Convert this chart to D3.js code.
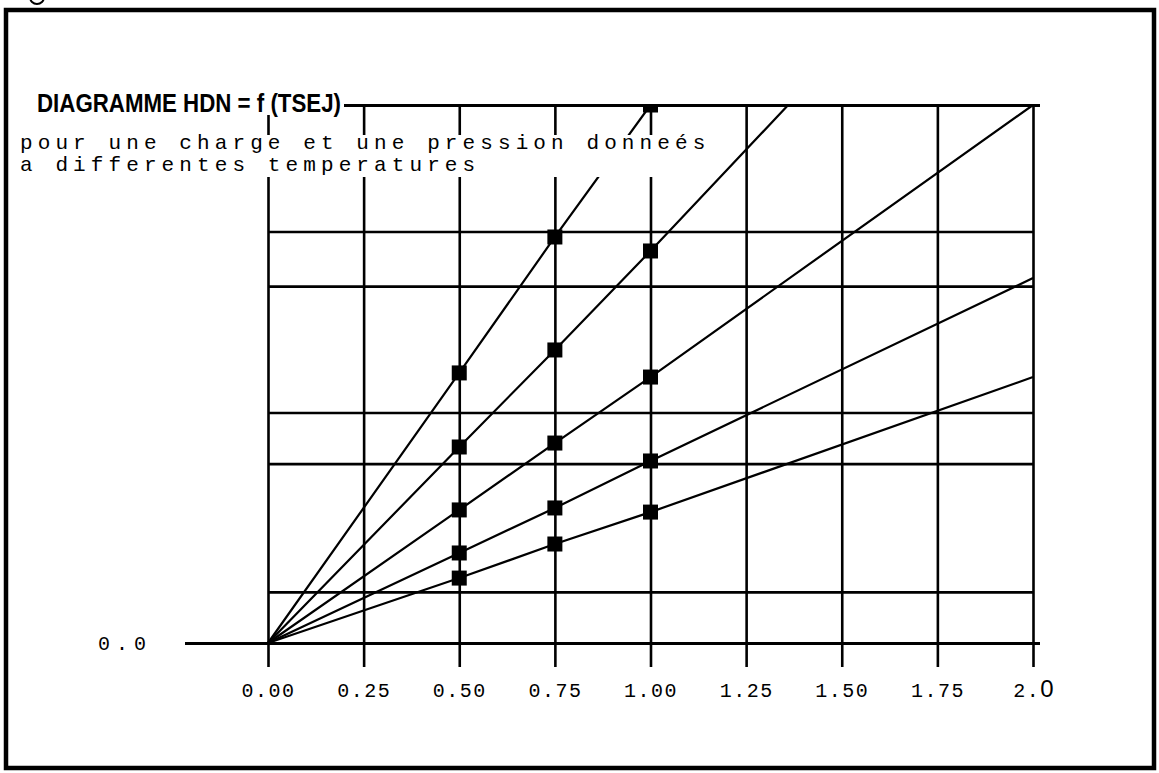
<!DOCTYPE html>
<html><head><meta charset="utf-8">
<script src="https://cdn.jsdelivr.net/npm/d3@7"></script>
<style>html,body{margin:0;padding:0;background:#fff;} svg{display:block}</style>
</head><body>
<svg id="chart" width="1159" height="773"></svg>
<script>
// ---- data ----
const titleText = "DIAGRAMME HDN = f (TSEJ)";
const subtitleLines = ["pour une charge et une pression donneés", "a differentes temperatures"];
const xTicks = [0, 0.25, 0.5, 0.75, 1.0, 1.25, 1.5, 1.75, 2.0];
const xTickLabels = ["0.00", "0.25", "0.50", "0.75", "1.00", "1.25", "1.50", "1.75", "2.0"];
const yGrid = [0.285, 1.0, 1.285, 1.99, 2.295, 3.0];
const yBaseTicks = [0, 3.0];
const yBaseLabels = ["0.0", ""];

// curve points (TSEJ, HDN) per temperature
const s1X = [0, 0.5, 0.75, 1.0];
const s1Y = [0, 1.506, 2.264, 3.0];
const s2X = [0, 0.5, 0.75, 1.0, 1.36];
const s2Y = [0, 1.093, 1.634, 2.186, 3.0];
const s3X = [0, 0.5, 0.75, 1.0, 2.0];
const s3Y = [0, 0.742, 1.115, 1.483, 3.0];
const s4X = [0, 0.5, 0.75, 1.0, 2.0];
const s4Y = [0, 0.502, 0.753, 1.015, 2.035];
const s5X = [0, 0.5, 0.75, 1.0, 2.0];
const s5Y = [0, 0.362, 0.552, 0.730, 1.483];
// measured points (markers) per temperature
const markerX = [0.5, 0.75, 1.0];
const m1Y = [1.506, 2.264, 3.0];
const m2Y = [1.093, 1.634, 2.186];
const m3Y = [0.742, 1.115, 1.483];
const m4Y = [0.502, 0.753, 1.015];
const m5Y = [0.362, 0.552, 0.730];

const series = [
  {xs: s1X, ys: s1Y, my: m1Y},
  {xs: s2X, ys: s2Y, my: m2Y},
  {xs: s3X, ys: s3Y, my: m3Y},
  {xs: s4X, ys: s4Y, my: m4Y},
  {xs: s5X, ys: s5Y, my: m5Y}
];

// ---- drawing ----
const svg = d3.select("#chart");
const x = d3.scaleLinear().domain([0, 2]).range([268, 1033]);
const y = d3.scaleLinear().domain([0, 3]).range([643, 105]);
const mono = "'Liberation Mono', 'DejaVu Sans Mono', monospace";

svg.append("rect").attr("width", 1159).attr("height", 773).attr("fill", "#fff");

const defs = svg.append("defs");
defs.append("clipPath").attr("id", "plotclip").append("rect")
  .attr("x", 180).attr("y", y(3)).attr("width", 870).attr("height", 600);

// vertical grid lines + x labels
const gx = svg.append("g").attr("transform", `translate(0,${y(3)})`)
  .call(d3.axisBottom(x).tickValues(xTicks).tickSize(y(0) + 24 - y(3)).tickPadding(16)
    .tickFormat((d, i) => xTickLabels[i]));
gx.select(".domain").remove();
gx.selectAll("line").attr("stroke", "#000").attr("stroke-width", 2.6);
gx.selectAll("text").attr("font-family", mono)
  .attr("font-size", 20).attr("letter-spacing", 1.5).attr("fill", "#000");
// last label: the "0" is in a different, larger face
const last = gx.selectAll("text").filter((d, i) => i === xTicks.length - 1);
last.text(null);
last.append("tspan").text(xTickLabels[xTickLabels.length - 1].slice(0, 2));
last.append("tspan").attr("font-family", "'Liberation Sans', Arial, sans-serif").attr("font-size", 24)
  .attr("letter-spacing", 0).text(xTickLabels[xTickLabels.length - 1].slice(2));

// horizontal grid lines
const gy = svg.append("g").attr("transform", `translate(${x(2)},0)`)
  .call(d3.axisLeft(y).tickValues(yGrid).tickSize(x(2) - x(0)).tickFormat(""));
gy.select(".domain").remove();
gy.selectAll("line").attr("stroke", "#000").attr("stroke-width", 2.6);

// base line (zero) with its label, and top line extension
const gb = svg.append("g").attr("transform", `translate(${x(2) + 7},0)`)
  .call(d3.axisLeft(y).tickValues(yBaseTicks).tickSize(x(2) + 7 - 185).tickPadding(33)
    .tickFormat((d, i) => yBaseLabels[i]));
gb.select(".domain").remove();
gb.selectAll("line").attr("stroke", "#000").attr("stroke-width", 2.8);
gb.selectAll("text").attr("font-family", mono)
  .attr("font-size", 20).attr("letter-spacing", 6).attr("fill", "#000");

// curves
const plot = svg.append("g").attr("clip-path", "url(#plotclip)");
const line = d3.line().x(d => x(d[0])).y(d => y(d[1])).curve(d3.curveLinear);
series.forEach(s => {
  const pts = s.xs.map((v, i) => [v, s.ys[i]]);
  plot.append("path").attr("d", line(pts)).attr("fill", "none")
    .attr("stroke", "#000").attr("stroke-width", 2.2).attr("stroke-linejoin", "round");
});
// markers
const ms = 15;
series.forEach(s => {
  plot.selectAll(null).data(markerX.map((v, i) => [v, s.my[i]])).enter().append("rect")
    .attr("x", d => x(d[0]) - ms / 2).attr("y", d => y(d[1]) - ms / 2)
    .attr("width", ms).attr("height", ms).attr("fill", "#000");
});

// title and subtitle with white backing
const tg = svg.append("g");
const title = tg.append("text").attr("x", 37).attr("y", 112)
  .attr("font-family", "'Liberation Sans', Arial, sans-serif").attr("font-weight", "bold")
  .attr("font-size", 25).attr("textLength", 304).attr("lengthAdjust", "spacingAndGlyphs")
  .attr("fill", "#000").text(titleText);
const sub = tg.append("g");
subtitleLines.forEach((t, i) => {
  sub.append("text").attr("x", 20).attr("y", 149 + i * 22)
    .attr("font-family", mono)
    .attr("font-size", 21).attr("letter-spacing", 5.1).attr("fill", "#000").text(t);
});
const tb = title.node().getBBox();
tg.insert("rect", ":first-child").attr("x", tb.x - 2).attr("y", tb.y + 3)
  .attr("width", tb.width + 5).attr("height", tb.height - 5).attr("fill", "#fff");
const sb = sub.node().getBBox();
tg.insert("rect", ":first-child").attr("x", sb.x - 2).attr("y", sb.y + 3)
  .attr("width", sb.width + 2).attr("height", sb.height - 3).attr("fill", "#fff");

// outer frame
svg.append("rect").attr("x", 6).attr("y", 10).attr("width", 1148).attr("height", 758)
  .attr("fill", "none").attr("stroke", "#000").attr("stroke-width", 4.5);
// cut-off scan fragment at the top edge
svg.append("path").attr("d", d3.arc()({innerRadius: 6, outerRadius: 8, startAngle: Math.PI / 2, endAngle: Math.PI * 1.5}))
  .attr("transform", "translate(37,-3)").attr("fill", "#000");
</script></body></html>
